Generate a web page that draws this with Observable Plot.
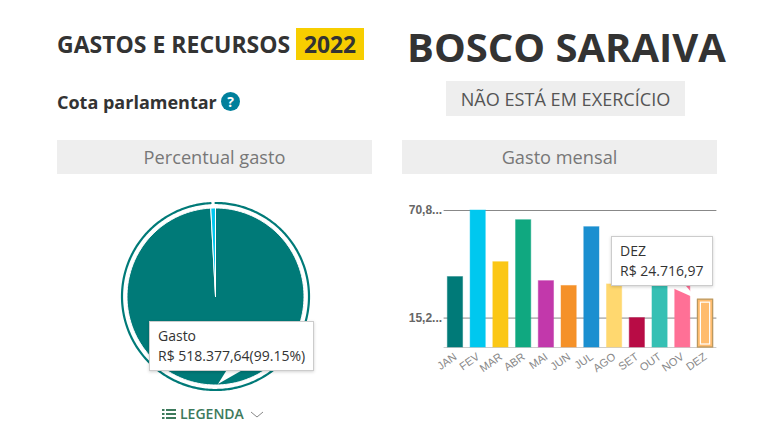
<!DOCTYPE html>
<html lang="pt-BR"><head><meta charset="utf-8">
<script src="https://cdn.jsdelivr.net/npm/d3@7"></script>
<script src="https://cdn.jsdelivr.net/npm/@observablehq/plot@0.6"></script>
<style>
html,body{margin:0;padding:0;background:#fff;width:780px;height:445px;overflow:hidden}
body{position:relative;font-family:"Open Sans",sans-serif;color:#333}
.a{position:absolute;white-space:nowrap}
.head{background:#eee;color:#777;font-size:18.2px;text-align:center;line-height:34px;height:34px;width:315px;top:140px}
.tip{background:#fff;border:1px solid #ccc;box-shadow:0 1px 3px rgba(0,0,0,.18);font-size:14px;line-height:20px;color:#333;box-sizing:border-box;padding:4px 8px}
.arrow{background:#fff}
#pie,#bars{position:absolute}
svg{display:block;overflow:visible}
</style></head><body>
<div class="a" style="left:57px;top:29px;font-size:23px;font-weight:700;line-height:30px">GASTOS E RECURSOS</div>
<div class="a" style="left:296px;top:28px;width:68px;height:32px;background:#f7ce00;font-size:22.8px;font-weight:700;line-height:34px;text-align:center">2022</div>
<div class="a" style="left:57px;top:89px;font-size:18px;font-weight:700;line-height:26px">Cota parlamentar</div>
<div class="a" style="left:221px;top:92px;width:19px;height:19px;border-radius:50%;background:#00809c;color:#fff;font-size:14px;font-weight:700;line-height:20px;text-align:center">?</div>
<div class="a" style="left:407px;top:20px;font-size:40px;font-weight:700;line-height:54px;width:318px;text-align:center">BOSCO SARAIVA</div>
<div class="a" style="left:446px;top:81px;width:239px;height:35px;background:#eee;color:#555;font-size:18.1px;line-height:36px;text-align:center">NÃO ESTÁ EM EXERCÍCIO</div>
<div class="a head" style="left:57px">Percentual gasto</div>
<div class="a head" style="left:402px">Gasto mensal</div>
<div id="pie" style="left:115px;top:196px"></div>
<div id="bars" style="left:402px;top:200px"></div>

<div class="a arrow" style="left:216px;top:368px;width:32px;height:18px;clip-path:polygon(12px 0,30px 0,2px 16px)"></div>
<div class="a tip" style="left:149px;top:321px;width:165px;height:50px">Gasto<br>R$ 518.377,64(99.15%)</div>

<div class="a arrow" style="left:668px;top:284px;width:32px;height:18px;clip-path:polygon(0 2px,18px 2px,29px 15px)"></div>
<div class="a tip" style="left:611px;top:236px;width:102px;height:50px">DEZ<br>R$ 24.716,97</div>

<div class="a" style="left:162px;top:404px;color:#3d7a5c;font-size:14px;font-weight:600;line-height:20px">
<svg width="15" height="12" style="display:inline-block;vertical-align:-1px;margin-right:3px"><g fill="#3d7a5c"><rect x="0" y="1" width="2.5" height="2"/><rect x="0" y="5" width="2.5" height="2"/><rect x="0" y="9" width="2.5" height="2"/><rect x="4" y="1" width="10" height="2"/><rect x="4" y="5" width="10" height="2"/><rect x="4" y="9" width="10" height="2"/></g></svg>LEGENDA<svg width="14" height="8" style="display:inline-block;margin-left:6px;vertical-align:0"><path d="M1 1L7 6L13 1" fill="none" stroke="#888" stroke-width="1"/></svg></div>

<script>
// Pie data
const pieLabels = ["Gasto", "Restante"];
const pieValues = [518377.64, 4443.0];
const pieColors = ["#007a78", "#00c8ef"];
// Bar data (R$ thousand)
const months = ["JAN","FEV","MAR","ABR","MAI","JUN","JUL","AGO","SET","OUT","NOV","DEZ"];
const monthly = [36.4,70.8,44.1,65.8,34.3,31.8,62.2,32.6,15.2,52.0,48.7,24.72];
const monthColors = ["#007a78","#00c8ef","#fbc715","#10a880","#c238ab","#f59128","#1b8fd0","#ffd86f","#b80c45","#36c0b4","#ff7096","#ffbc6e"];
const yTicks = [15.2, 70.8];
const yTickLabels = ["15,2...", "70,8..."];
const highlighted = "DEZ";

// Pie, drawn through Plot's x/y scales from d3.pie angles
const arcs = d3.pie().sort(null).value(d => d)(pieValues);
const R = 0.885, RING = 0.935;
const arcPts = (a, r) => {
  const n = Math.max(2, Math.ceil((a.endAngle - a.startAngle) * 60));
  return d3.range(n + 1).map(i => {
    const t = a.startAngle + (a.endAngle - a.startAngle) * i / n;
    return {x: r * Math.sin(t), y: r * Math.cos(t)};
  });
};
const slices = arcs.flatMap((a, i) =>
  [{x:0,y:0}, ...arcPts(a, R), {x:0,y:0}].map(p => ({...p, name: pieLabels[i]})));
const ring = arcPts(arcs[0], RING);

document.getElementById("pie").append(Plot.plot({
  width: 200, height: 200, margin: 0,
  x: {domain: [-1, 1], range: [0, 200], axis: null},
  y: {domain: [-1, 1], range: [200, 0], axis: null},
  color: {domain: pieLabels, range: pieColors},
  marks: [
    Plot.line(slices, {x: "x", y: "y", z: "name", fill: "name", stroke: "#fff", strokeWidth: 1}),
    Plot.line(ring, {x: "x", y: "y", stroke: pieColors[0], strokeWidth: 2.2})
  ]
}));

// Bars
const rows = months.map((m, i) => ({month: m, value: monthly[i]}));
document.getElementById("bars").append(Plot.plot({
  width: 315, height: 190,
  marginLeft: 41.6, marginRight: 0.6, marginTop: 10, marginBottom: 43,
  style: {background: "transparent", fontFamily: "Liberation Sans, Arial, sans-serif", fontSize: "10px"},
  x: {domain: months, paddingInner: 0.33, paddingOuter: 0.165, round: false, label: null},
  y: {domain: [0, 70.8], label: null},
  color: {domain: months, range: monthColors},
  marks: [
    Plot.ruleY(yTicks, {stroke: "#888", strokeWidth: 1}),
    Plot.ruleY([0], {stroke: "#ccc", strokeWidth: 1}),
    Plot.barY(rows, {x: "month", y: "value", fill: "month", stroke: "month", strokeOpacity: 0.45, strokeWidth: 1}),
    Plot.barY(rows.filter(d => d.month === highlighted), {x: "month", y: "value", fill: "none", stroke: "#b8975f", strokeWidth: 1.2}),
    Plot.barY(rows.filter(d => d.month === highlighted), {x: "month", y: "value", fill: "none", stroke: "#fff", strokeWidth: 1.2, inset: 3}),
    Plot.axisY({ticks: yTicks, tickFormat: d => yTickLabels[yTicks.indexOf(d)], tickSize: 0, tickPadding: 2, fill: "#666", fontWeight: "bold", fontSize: 12, label: null}),
    Plot.axisX({tickSize: 0, tickPadding: 8, tickRotate: -35, fill: "#888", fontSize: 11, label: null})
  ]
}));
</script>
</body></html>
